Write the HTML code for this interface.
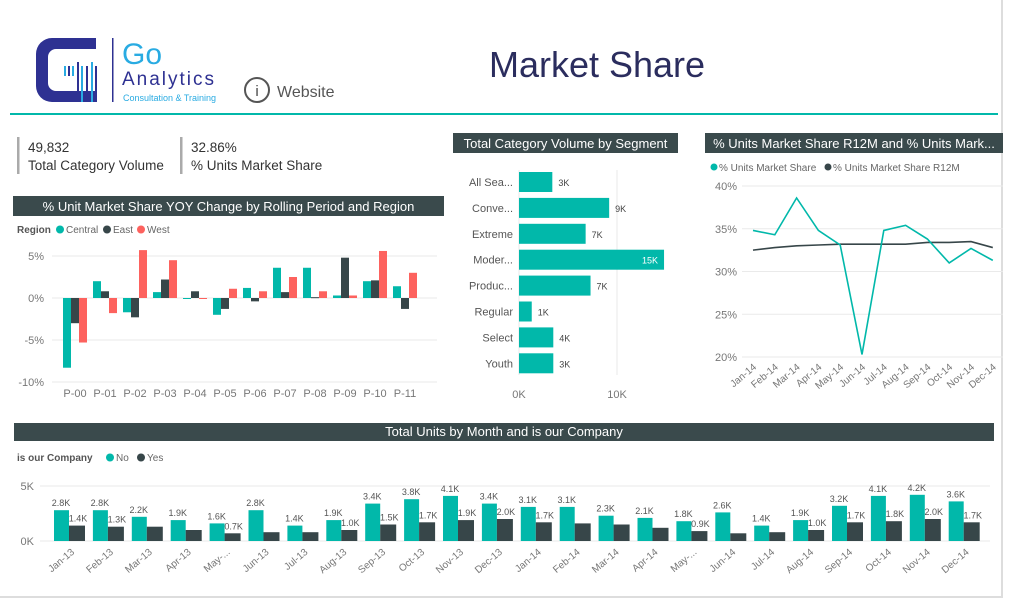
<!DOCTYPE html>
<html><head><meta charset="utf-8"><style>
body{margin:0;width:1011px;height:603px;background:#fff;font-family:"Liberation Sans",sans-serif;overflow:hidden;position:relative}
.t{position:absolute;white-space:nowrap}
</style></head><body>
<div style="position:absolute;left:0;top:0;width:1003px;height:598px;border-right:2px solid #ddd;border-bottom:2px solid #ddd;box-sizing:border-box"></div>
<svg width="1011" height="603" style="position:absolute;left:0;top:0" id="svg" font-family="Liberation Sans, sans-serif">
 <g>
  <path d="M96,38 H52 A16,16 0 0 0 36,54 V86 A16,16 0 0 0 52,102 H96 V91 H56 A8,8 0 0 1 48,83 V57 A8,8 0 0 1 56,49 H96 Z" fill="#2e3192"/>
  <rect x="64" y="66" width="2" height="10" fill="#29abe2"/><rect x="68" y="66" width="2" height="10" fill="#2e3192"/>
  <rect x="72" y="66" width="2" height="10" fill="#29abe2"/><rect x="77" y="62" width="2" height="40" fill="#2e3192"/>
  <rect x="81" y="66" width="2" height="36" fill="#29abe2"/><rect x="86" y="66" width="2" height="36" fill="#2e3192"/>
  <rect x="91" y="62" width="2" height="40" fill="#29abe2"/><rect x="95" y="66" width="2" height="36" fill="#2e3192"/>
  <rect x="112" y="38" width="1.5" height="64" fill="#2e3192"/>
  <text x="122" y="64" font-size="30" fill="#29abe2">Go</text>
  <text x="122" y="85" font-size="19" fill="#2e3192" letter-spacing="2">Analytics</text>
  <text x="123" y="101" font-size="9" fill="#29abe2">Consultation &amp; Training</text>
 </g>
 <g>
  <circle cx="257" cy="90" r="12" fill="none" stroke="#555" stroke-width="2"/>
  <text x="257" y="96" font-size="15" text-anchor="middle" fill="#444">i</text>
  <text x="277" y="97" font-size="16" fill="#555">Website</text>
 </g>
 <text x="597" y="77" font-size="36" text-anchor="middle" fill="#2b2d5e">Market Share</text>
 <rect x="10" y="113" width="988" height="2" fill="#01B8AA"/>
 <g>
  <rect x="17" y="137" width="2.5" height="37" fill="#aaa"/>
  <text x="28" y="152" font-size="13.5" fill="#333">49,832</text>
  <text x="28" y="170" font-size="13.5" fill="#333">Total Category Volume</text>
 </g>
 <g>
  <rect x="180" y="137" width="2.5" height="37" fill="#aaa"/>
  <text x="191" y="152" font-size="13.5" fill="#333">32.86%</text>
  <text x="191" y="170" font-size="13.5" fill="#333">% Units Market Share</text>
 </g>
 <g id="yoy"></g><g id="seg"></g><g id="line"></g><g id="bottom"></g>
</svg>
<script>
const periods=['P-00','P-01','P-02','P-03','P-04','P-05','P-06','P-07','P-08','P-09','P-10','P-11'];
const central=[-8.3,2.0,-1.7,0.7,-0.1,-2.0,1.2,3.6,3.6,0.3,2.0,1.4];
const east=[-3.0,0.8,-2.3,2.2,0.8,-1.3,-0.4,0.7,0.1,4.8,2.1,-1.3];
const west=[-5.3,-1.8,5.7,4.5,-0.1,1.1,0.8,2.5,0.8,0.3,5.6,3.0];
const yoyTicks=[5,0,-5,-10];
const segments=['All Sea...','Conve...','Extreme','Moder...','Produc...','Regular','Select','Youth'];
const segValues=[3.4,9.2,6.8,14.8,7.3,1.3,3.5,3.5];
const segLabels=['3K','9K','7K','15K','7K','1K','4K','3K'];
const lineMonths=['Jan-14','Feb-14','Mar-14','Apr-14','May-14','Jun-14','Jul-14','Aug-14','Sep-14','Oct-14','Nov-14','Dec-14'];
const shareVals=[34.8,34.3,38.6,34.8,33.1,20.3,34.8,35.4,33.8,31.0,32.7,31.3];
const r12mVals=[32.5,32.8,33.0,33.1,33.2,33.2,33.2,33.2,33.4,33.4,33.5,32.8];
const lineTicks=[40,35,30,25,20];
const months=['Jan-13','Feb-13','Mar-13','Apr-13','May-...','Jun-13','Jul-13','Aug-13','Sep-13','Oct-13','Nov-13','Dec-13','Jan-14','Feb-14','Mar-14','Apr-14','May-...','Jun-14','Jul-14','Aug-14','Sep-14','Oct-14','Nov-14','Dec-14'];
const noVals=[2.8,2.8,2.2,1.9,1.6,2.8,1.4,1.9,3.4,3.8,4.1,3.4,3.1,3.1,2.3,2.1,1.8,2.6,1.4,1.9,3.2,4.1,4.2,3.6];
const yesVals=[1.4,1.3,1.3,1.0,0.7,0.8,0.8,1.0,1.5,1.7,1.9,2.0,1.7,1.6,1.5,1.2,0.9,0.7,0.8,1.0,1.7,1.8,2.0,1.7];
const yesLabels=['1.4K','1.3K','','','0.7K','','','1.0K','1.5K','1.7K','1.9K','2.0K','1.7K','','','','0.9K','','','1.0K','1.7K','1.8K','2.0K','1.7K'];
const bottomTicks=[5,0];

const NS='http://www.w3.org/2000/svg';
function mk(parent,tag,attrs,txt){const e=document.createElementNS(NS,tag);for(const k in attrs)e.setAttribute(k,attrs[k]);if(txt!==undefined)e.textContent=txt;parent.appendChild(e);return e;}
const TEAL='#01B8AA',DARK='#374649',RED='#FD625E',GRID='#eaeaea',AX='#777';
function titleBar(g,x,y,w,h,txt,name){const b=mk(g,'g',{});


mk(b,'rect',{x:x,y:y,width:w,height:h,fill:'#3a4a4c'});mk(b,'text',{x:x+w/2,y:y+h-5,'font-size':13,fill:'#fff','text-anchor':'middle'},txt);}

// YOY chart
(function(){const g=document.getElementById('yoy');
titleBar(g,13,196,431,20,'% Unit Market Share YOY Change by Rolling Period and Region','yoy-chart-title');
const lg=mk(g,'g',{});


mk(lg,'text',{x:17,y:233,'font-size':10,fill:'#555','font-weight':'bold'},'Region');
[['Central',TEAL,60],['East',DARK,107],['West',RED,141]].forEach(([n,c,x])=>{const e=mk(lg,'g',{});


mk(e,'circle',{cx:x,cy:229.5,r:4,fill:c});mk(e,'text',{x:x+6,y:233,'font-size':10,fill:'#666'},n);});
const y=v=>298-v*8.4; const cx=i=>75+i*30;
yoyTicks.forEach(t=>{mk(g,'line',{x1:52,x2:437,y1:y(t),y2:y(t),stroke:GRID});
const tt=mk(g,'text',{x:44,y:y(t)+4,'font-size':11,fill:AX,'text-anchor':'end'},t+'%');

});
[[central,TEAL,-1],[east,DARK,0],[west,RED,1]].forEach(([arr,c,o])=>{arr.forEach((v,i)=>{const r=mk(g,'rect',{x:cx(i)+o*8-4,y:Math.min(y(v),y(0)),width:8,height:Math.max(Math.abs(y(v)-y(0)),1),fill:c});

});});
periods.forEach((p,i)=>{const t=mk(g,'text',{x:cx(i),y:397,'font-size':11,fill:AX,'text-anchor':'middle'},p);

});
})();

// Segment chart
(function(){const g=document.getElementById('seg');
titleBar(g,453,133,225,20,'Total Category Volume by Segment','segment-chart-title');
const x=v=>519+v*9.8;const cy=i=>182+i*25.9;
mk(g,'line',{x1:519,x2:519,y1:170,y2:375,stroke:GRID});mk(g,'line',{x1:x(10),x2:x(10),y1:170,y2:375,stroke:GRID});
segments.forEach((s,i)=>{const t=mk(g,'text',{x:513,y:cy(i)+4,'font-size':11,fill:'#555','text-anchor':'end'},s);


const r=mk(g,'rect',{x:519,y:cy(i)-10,width:segValues[i]*9.8,height:20,fill:TEAL});


const inside=segValues[i]>12;
mk(g,'text',{x:inside?x(segValues[i])-6:x(segValues[i])+6,y:cy(i)+4,'font-size':9,fill:inside?'#fff':'#444','text-anchor':inside?'end':'start'},segLabels[i]);});
[[0,'0K'],[10,'10K']].forEach(([v,l])=>{const t=mk(g,'text',{x:x(v),y:398,'font-size':11,fill:AX,'text-anchor':'middle'},l);

});
})();

// Line chart
(function(){const g=document.getElementById('line');
titleBar(g,705,133,298,20,'% Units Market Share R12M and % Units Mark...','line-chart-title');
[['% Units Market Share',TEAL,714],['% Units Market Share R12M',DARK,828]].forEach(([n,c,x])=>{const e=mk(g,'g',{});


mk(e,'circle',{cx:x,cy:167,r:3.5,fill:c});mk(e,'text',{x:x+5,y:171,'font-size':10,fill:'#666'},n);});
const y=v=>186+(40-v)*8.55;const x=i=>753+i*21.8;
lineTicks.forEach(t=>{mk(g,'line',{x1:742,x2:1003,y1:y(t),y2:y(t),stroke:GRID});
const tt=mk(g,'text',{x:737,y:y(t)+4,'font-size':11,fill:AX,'text-anchor':'end'},t+'%');

});
const l1=mk(g,'polyline',{points:r12mVals.map((v,i)=>x(i)+','+y(v)).join(' '),fill:'none',stroke:DARK,'stroke-width':1.6});


const l2=mk(g,'polyline',{points:shareVals.map((v,i)=>x(i)+','+y(v)).join(' '),fill:'none',stroke:TEAL,'stroke-width':1.6});


lineMonths.forEach((m,i)=>{const t=mk(g,'text',{x:x(i)+4,y:368,'font-size':10,fill:AX,'text-anchor':'end',transform:`rotate(-40 ${x(i)+4} 368)`},m);

});
})();

// Bottom chart
(function(){const g=document.getElementById('bottom');
titleBar(g,14,423,980,18,'Total Units by Month and is our Company','bottom-chart-title');
const lg=mk(g,'g',{});


mk(lg,'text',{x:17,y:461,'font-size':10,fill:'#555','font-weight':'bold'},'is our Company');
[['No',TEAL,110],['Yes',DARK,141]].forEach(([n,c,x])=>{const e=mk(lg,'g',{});


mk(e,'circle',{cx:x,cy:457.5,r:4,fill:c});mk(e,'text',{x:x+6,y:461,'font-size':10,fill:'#666'},n);});
const y=v=>541-v*11;const cx=i=>69+i*38.9;
bottomTicks.forEach(t=>{mk(g,'line',{x1:40,x2:990,y1:y(t),y2:y(t),stroke:GRID});
const tt=mk(g,'text',{x:34,y:y(t)+4,'font-size':11,fill:AX,'text-anchor':'end'},t+'K');

});
months.forEach((m,i)=>{
const a=mk(g,'rect',{x:cx(i)-15,y:y(noVals[i]),width:15,height:noVals[i]*11,fill:TEAL});


const b=mk(g,'rect',{x:cx(i),y:y(yesVals[i]),width:16,height:yesVals[i]*11,fill:DARK});


mk(g,'text',{x:cx(i)-8,y:y(noVals[i])-4,'font-size':9,fill:'#555','text-anchor':'middle'},noVals[i].toFixed(1)+'K');
if(yesLabels[i])mk(g,'text',{x:cx(i)+9,y:y(yesVals[i])-4,'font-size':9,fill:'#555','text-anchor':'middle'},yesLabels[i]);
const t=mk(g,'text',{x:cx(i)+6,y:553,'font-size':10,fill:AX,'text-anchor':'end',transform:`rotate(-40 ${cx(i)+6} 553)`},m);

});
})();
</script>
</body></html>
